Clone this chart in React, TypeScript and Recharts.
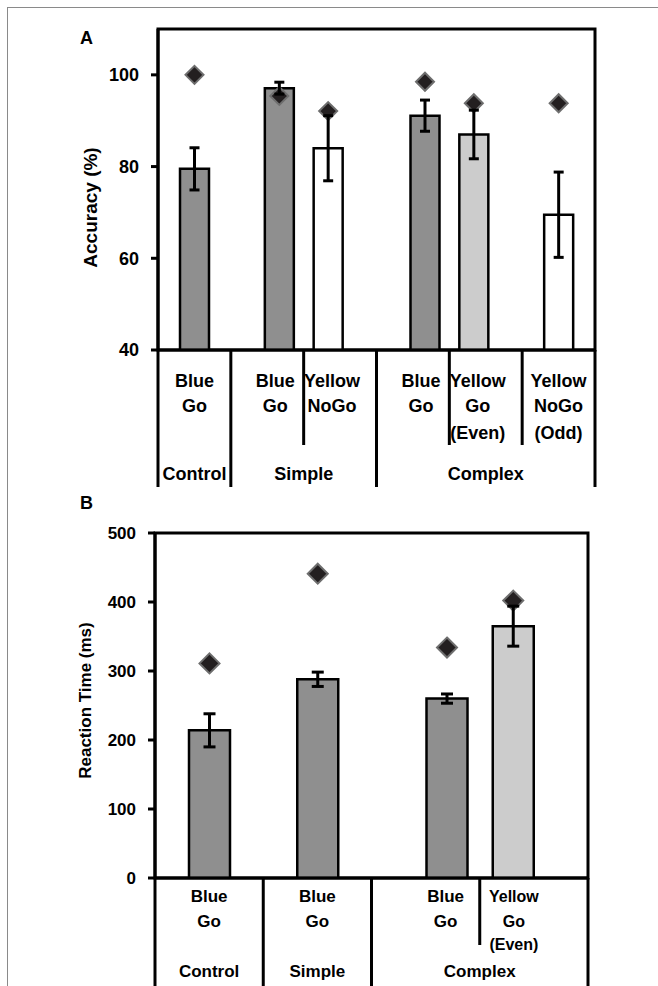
import React from "react";
import {
  ComposedChart,
  Bar,
  XAxis,
  YAxis,
  ErrorBar,
  Cell,
  ReferenceArea,
  Label,
} from "recharts";

const FONT = "'Liberation Sans', Arial, Helvetica, sans-serif";

// Panel A - accuracy (%)
const accConditions = ["Blue\nGo", "Blue\nGo", "Yellow\nNoGo", "Blue\nGo", "Yellow\nGo\n(Even)", "Yellow\nNoGo\n(Odd)"];
const accMean = [79.5, 97.1, 84.0, 91.1, 87.0, 69.5];
const accSem = [4.6, 1.3, 7.1, 3.4, 5.3, 9.3];
const accDiamond = [100, 95.4, 92.1, 98.5, 93.8, 93.8];
const accGroups = ["Control", "Simple", "Complex"];
const accGroupSizes = [1, 2, 3];
const accTicks = [40, 60, 80, 100];

// Panel B - reaction time (ms)
const rtConditions = ["Blue\nGo", "Blue\nGo", "Blue\nGo", "Yellow\nGo\n(Even)"];
const rtMean = [214, 288, 260, 365];
const rtSem = [24, 10.4, 6.7, 29];
const rtDiamond = [311, 441, 334, 402];
const rtGroups = ["Control", "Simple", "Complex"];
const rtGroupSizes = [1, 1, 2];
const rtTicks = [0, 100, 200, 300, 400, 500];

const SLOTS = ["L", "C", "R"];

function shadeOf(cond: string) {
  if (cond.startsWith("Blue")) return "#8f8f8f";
  if (cond.includes("NoGo")) return "#ffffff";
  return "#cccccc";
}

function groupIndex(sizes: number[]) {
  const out: number[] = [];
  sizes.forEach((n, g) => {
    for (let k = 0; k < n; k++) out.push(g);
  });
  return out;
}

// a Blue Go bar sits next to the condition that follows it in the same block
function slotsFor(conds: string[], sizes: number[]) {
  const grp = groupIndex(sizes);
  return conds.map((c, i) => {
    if (c.startsWith("Blue") && i + 1 < conds.length && grp[i + 1] === grp[i]) return "R";
    if (i > 0 && grp[i - 1] === grp[i] && conds[i - 1].startsWith("Blue")) return "L";
    return "C";
  });
}

function shiftSign(s: string) {
  return s === "R" ? 1 : s === "L" ? -1 : 0;
}

function Diamond(props: any) {
  const { x, y, width, height, r } = props;
  if (!height || !isFinite(y)) return <g />;
  const cx = x + width / 2;
  return (
    <path
      d={`M${cx},${y - r}L${cx + r},${y}L${cx},${y + r}L${cx - r},${y}Z`}
      fill="#231f20"
      stroke="#6e6e6e"
      strokeWidth={2}
    />
  );
}

type Cfg = {
  conds: string[];
  mean: number[];
  sem: number[];
  diamond: number[];
  groups: string[];
  groupSizes: number[];
  ticks: number[];
  domain: [number, number];
  yTitle: string;
  titleSize: number;
  titleX: number;
  titleDy: number;
  width: number;
  height: number;
  top: number;
  yw: number;
  right: number;
  axisH: number;
  barSize: number;
  shift: number;
  labelShift: number;
  cap: number;
  r: number;
  font: number;
  yellowFont: number;
  lineY: number[];
  groupY: number;
  shortEnd: number;
  fullEnd: number;
};

function Panel({ cfg }: { cfg: Cfg }) {
  const slots = slotsFor(cfg.conds, cfg.groupSizes);
  const rows = cfg.conds.map((c, i) => {
    const row: any = { name: c };
    SLOTS.forEach((s) => {
      const on = slots[i] === s;
      row["m" + s] = on ? cfg.mean[i] : null;
      row["e" + s] = on ? cfg.sem[i] : null;
      row["d" + s] = on ? cfg.diamond[i] : null;
    });
    return row;
  });

  const n = cfg.conds.length;
  const band = (cfg.width - cfg.yw - cfg.right) / n;
  const starts: number[] = [];
  let acc = 0;
  cfg.groupSizes.forEach((s) => {
    starts.push(acc);
    acc += s;
  });

  const renderTick = (props: any) => {
    const { x, y, payload } = props;
    const i = props.index ?? payload.index;
    const cond = String(cfg.conds[i]);
    const lines = cond.split("\n");
    const cx = x + shiftSign(slots[i]) * cfg.labelShift;
    const left = x - band / 2;
    const g = starts.indexOf(i);
    const txt = { fontWeight: 700, fill: "#000", fontFamily: FONT };
    const fs = cond.startsWith("Yellow") ? cfg.yellowFont : cfg.font;
    return (
      <g>
        <line
          x1={left}
          x2={left}
          y1={y}
          y2={y + (g >= 0 ? cfg.fullEnd : cfg.shortEnd)}
          stroke="#000"
          strokeWidth={3}
        />
        {i === n - 1 && (
          <line x1={x + band / 2} x2={x + band / 2} y1={y} y2={y + cfg.fullEnd} stroke="#000" strokeWidth={3} />
        )}
        {lines.map((t, k) => (
          <text key={k} x={cx} y={y + cfg.lineY[k]} textAnchor="middle" fontSize={fs} {...txt}>
            {t}
          </text>
        ))}
        {g >= 0 && (
          <text
            x={left + (cfg.groupSizes[g] * band) / 2}
            y={y + cfg.groupY}
            textAnchor="middle"
            fontSize={cfg.font}
            {...txt}
          >
            {cfg.groups[g]}
          </text>
        )}
      </g>
    );
  };

  const renderTitle = (p: any) => {
    const vb = p.viewBox;
    const tx = vb.x + cfg.titleX;
    const ty = vb.y + vb.height / 2 + cfg.titleDy;
    return (
      <text
        x={tx}
        y={ty}
        transform={`rotate(-90 ${tx} ${ty})`}
        textAnchor="middle"
        dominantBaseline="central"
        fontSize={cfg.titleSize}
        fontWeight={700}
        fontFamily={FONT}
        fill="#000"
      >
        {cfg.yTitle}
      </text>
    );
  };

  return (
    <ComposedChart
      width={cfg.width}
      height={cfg.height}
      data={rows}
      margin={{ top: cfg.top, right: cfg.right, left: 0, bottom: 0 }}
      barGap={cfg.shift - cfg.barSize}
      style={{ fontFamily: FONT }}
    >
      <XAxis
        xAxisId="main"
        dataKey="name"
        interval={0}
        height={cfg.axisH}
        tickSize={0}
        tickMargin={0}
        tickLine={false}
        axisLine={{ stroke: "#000", strokeWidth: 3 }}
        tick={renderTick}
      />
      <XAxis xAxisId="dia" dataKey="name" orientation="top" height={0} hide />
      <YAxis
        domain={cfg.domain}
        ticks={cfg.ticks}
        interval={0}
        allowDataOverflow
        width={cfg.yw}
        tickSize={7}
        tickMargin={12}
        tick={{ fontSize: cfg.font, fontWeight: 700, fill: "#000", fontFamily: FONT }}
        tickLine={{ stroke: "#000", strokeWidth: 3 }}
        axisLine={{ stroke: "#000", strokeWidth: 3 }}
      >
        <Label content={renderTitle} />
      </YAxis>
      <ReferenceArea
        xAxisId="main"
        y1={cfg.domain[0]}
        y2={cfg.domain[1]}
        fill="none"
        fillOpacity={0}
        stroke="#000"
        strokeWidth={3}
      />
      {SLOTS.map((s) => (
        <Bar
          key={"m" + s}
          xAxisId="main"
          dataKey={"m" + s}
          barSize={cfg.barSize}
          stroke="#000"
          strokeWidth={2.5}
          isAnimationActive={false}
        >
          {rows.map((r, i) => (
            <Cell key={i} fill={shadeOf(r.name)} />
          ))}
          <ErrorBar dataKey={"e" + s} width={cfg.cap} stroke="#000" strokeWidth={3} direction="y" />
        </Bar>
      ))}
      {SLOTS.map((s) => (
        <Bar
          key={"d" + s}
          xAxisId="dia"
          dataKey={"d" + s}
          barSize={cfg.barSize}
          isAnimationActive={false}
          shape={(p: any) => <Diamond {...p} r={cfg.r} />}
        />
      ))}
    </ComposedChart>
  );
}

const panelA: Cfg = {
  conds: accConditions,
  mean: accMean,
  sem: accSem,
  diamond: accDiamond,
  groups: accGroups,
  groupSizes: accGroupSizes,
  ticks: accTicks,
  domain: [40, 110],
  yTitle: "Accuracy (%)",
  titleSize: 19,
  titleX: 90,
  titleDy: 18,
  width: 640,
  height: 490,
  top: 29,
  yw: 158,
  right: 45,
  axisH: 140,
  barSize: 29,
  shift: 12,
  labelShift: 8,
  cap: 5,
  r: 9,
  font: 18,
  yellowFont: 18,
  lineY: [37, 62, 89],
  groupY: 130,
  shortEnd: 95,
  fullEnd: 137,
};

const panelB: Cfg = {
  conds: rtConditions,
  mean: rtMean,
  sem: rtSem,
  diamond: rtDiamond,
  groups: rtGroups,
  groupSizes: rtGroupSizes,
  ticks: rtTicks,
  domain: [0, 500],
  yTitle: "Reaction Time (ms)",
  titleSize: 17,
  titleX: 85,
  titleDy: -5,
  width: 640,
  height: 486,
  top: 33,
  yw: 155,
  right: 52,
  axisH: 108,
  barSize: 41,
  shift: 21,
  labelShift: 20,
  cap: 6,
  r: 10,
  font: 17,
  yellowFont: 16,
  lineY: [24, 49, 72],
  groupY: 99,
  shortEnd: 67,
  fullEnd: 120,
};

const letterStyle: React.CSSProperties = {
  position: "absolute",
  fontFamily: FONT,
  fontWeight: 700,
  fontSize: 18,
  lineHeight: "20px",
};

export default function App() {
  return (
    <div
      style={{
        position: "fixed",
        left: 0,
        top: 0,
        width: 658,
        height: 986,
        overflow: "hidden",
        background: "#fff",
      }}
    >
      <div
        style={{
          position: "absolute",
          left: 7,
          top: 7,
          width: 700,
          height: 1000,
          borderTop: "1px solid #8a8a8a",
          borderLeft: "1px solid #8a8a8a",
        }}
      />
      <div style={{ ...letterStyle, left: 80, top: 28 }}>A</div>
      <div style={{ ...letterStyle, left: 80, top: 493 }}>B</div>
      <div style={{ position: "absolute", left: 0, top: 0 }}>
        <Panel cfg={panelA} />
      </div>
      <div style={{ position: "absolute", left: 0, top: 500 }}>
        <Panel cfg={panelB} />
      </div>
    </div>
  );
}
